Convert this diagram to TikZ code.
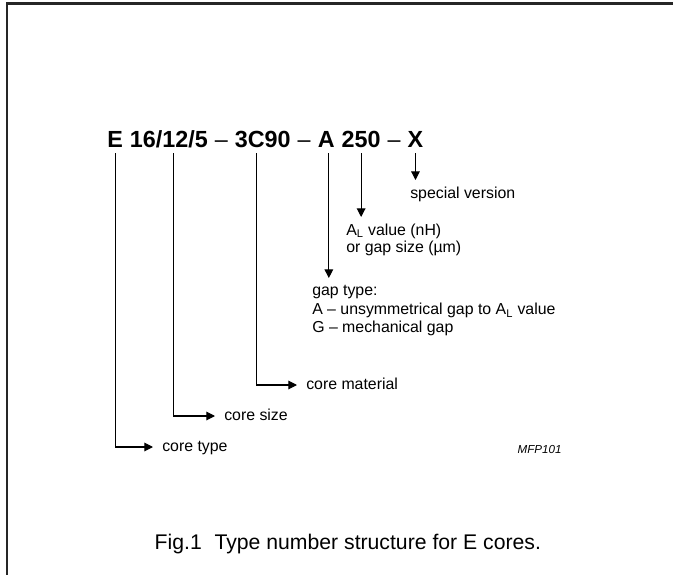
\documentclass[tikz,border=0pt]{standalone}
\usepackage{fontspec}
\setmainfont{Liberation Sans}
\usetikzlibrary{arrows.meta,positioning}
\newcommand{\lblfont}{\fontsize{11.9}{12.8}\selectfont}
\tikzset{
  part/.style={
    font=\fontsize{17.5}{20}\selectfont\bfseries,
    inner xsep=0pt,inner ysep=4.5pt,text depth=0pt
  },
  lbl/.style={
    font=\lblfont,anchor=west,inner xsep=6.75pt,inner ysep=0pt,
    text height=8.5pt,text depth=2.5pt
  },
  note/.style={
    font=\lblfont,align=left,anchor=north west,
    inner xsep=0pt,inner ysep=5pt
  },
  conn/.style={-{Triangle[length=6.5pt,width=6.5pt]},line width=0.8pt,draw=black},
  framerule/.style={line width=1.6pt,draw=black!85}
}
\begin{document}
\begin{tikzpicture}[x=0.75pt,y=-0.75pt,node distance=4.9pt]
  \useasboundingbox (0,0) rectangle (675,575);
  \draw[framerule] (7,575) -- (7,3.5) -- (673,3.5);

  % type number
  \node[part,anchor=base west] (tE) at (107,147) {E};
  \node[part,base right=of tE] (tsize) {16/12/5};
  \node[part,base right=of tsize] (d1) {\mdseries –};
  \node[part,base right=of d1] (tmat) {3C90};
  \node[part,base right=of tmat] (d2) {\mdseries –};
  \node[part,base right=of d2] (tgap) {A};
  \node[part,base right=of tgap] (tal) {250};
  \node[part,base right=of tal] (d3) {\mdseries –};
  \node[part,base right=of d3] (tver) {X};

  % explanations
  \node[note] (lver) at (410,180) {special version};
  \node[note] (lal) at (346,217) {A\textsubscript{L} value (nH)\\or gap size (µm)};
  \node[note] (lgap) at (312,278)
    {gap type:\\[2pt]A – unsymmetrical gap to A\textsubscript{L} value\\[0.5pt]G – mechanical gap};
  \node[lbl] (lmat) at (297,385) {core material};
  \node[lbl] (lsize) at (215,416) {core size};
  \node[lbl] (ltype) at (153,447) {core type};

  \draw[conn] (tver.south) -- (tver.south |- lver.north);
  \draw[conn] (tal.south) -- (tal.south |- lal.north);
  \draw[conn] ([xshift=2pt]tgap.south) -- ([xshift=2pt]tgap.south |- lgap.north);
  \draw[conn] ([xshift=-4.5pt]tmat.south) |- (lmat.west);
  \draw[conn] ([xshift=3.5pt]tsize.south) |- (lsize.west);
  \draw[conn] (tE.south) |- (ltype.west);

  \node[font=\fontsize{8.7}{10}\selectfont\itshape,anchor=base west] (code)
    at (513,453) {MFP101};
  \node[font=\fontsize{15.9}{18}\selectfont,anchor=base west] (caption)
    at (150,549) {Fig.1\hspace{0.6em}Type number structure for E cores.};
\end{tikzpicture}
\end{document}
